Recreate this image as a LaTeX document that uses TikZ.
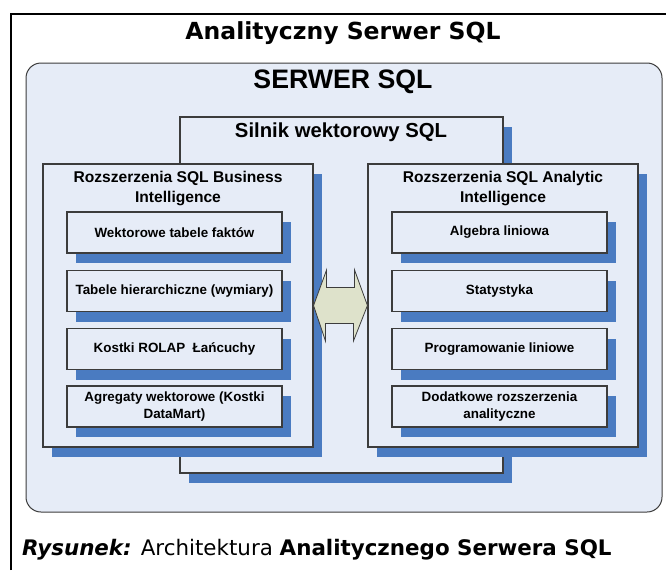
\documentclass[tikz,border=0pt]{standalone}
\usepackage{fontspec}
\setmainfont{Liberation Sans}
\newfontfamily\capfont{DejaVu Sans}
\usetikzlibrary{shadows,calc}
\definecolor{bgblue}{HTML}{E6ECF7}
\definecolor{shblue}{HTML}{4A7BC1}
\definecolor{arrowfill}{HTML}{DEE2CB}
\definecolor{edgegray}{HTML}{3C3C3C}
\tikzset{
  panel/.style={draw=edgegray, line width=1.1pt, fill=bgblue, inner sep=0pt,
    drop shadow={shadow xshift=9pt, shadow yshift=-10pt, fill=shblue, opacity=1}},
  item/.style={panel, minimum width=215pt, minimum height=41pt, align=center,
    font=\bfseries\fontsize{13.4}{17.5}\selectfont},
  lbl/.style={inner sep=0pt, align=center},
}
\begin{document}
\begin{tikzpicture}[x=1pt,y=-1pt]
\useasboundingbox (0,0) rectangle (666,570);
% outer frame
\coordinate (fa) at (11,570);
\coordinate (fb) at (11,14);
\coordinate (fc) at (666,14);
\draw[line width=2.4pt] (fa) -- (fb) -- (fc);
\node[lbl, font=\capfont\bfseries\fontsize{23.5}{26}\selectfont] (title) at (343,33) {Analityczny Serwer SQL};
% server
\node[draw=edgegray, line width=1pt, fill=bgblue, rounded corners=15pt,
  minimum width=636pt, minimum height=449pt, inner sep=0pt] (server) at (344,287.5) {};
\node[lbl, font=\bfseries\fontsize{26.7}{30}\selectfont] (servertitle) at (343,82) {SERWER SQL};
% engine
\node[panel, minimum width=323pt, minimum height=356pt] (engine) at (341.5,295) {};
\node[lbl, font=\bfseries\fontsize{20.3}{23}\selectfont] (enginetitle) at (341,132) {Silnik wektorowy SQL};
% BI
\node[panel, minimum width=270pt, minimum height=283pt] (bi) at (178,305.5) {};
\node[lbl, font=\bfseries\fontsize{15.6}{19.5}\selectfont, anchor=north] (bititle) at (178,171) {Rozszerzenia SQL Business\\Intelligence};
% AI
\node[panel, minimum width=270pt, minimum height=283pt] (ai) at (503,305.5) {};
\node[lbl, font=\bfseries\fontsize{15.6}{19.5}\selectfont, anchor=north] (aititle) at (503,171) {Rozszerzenia SQL Analytic\\Intelligence};
% items left
\node[item] (b1) at (174.5,232.5) {Wektorowe tabele faktów};
\node[item] (b2) at (174.5,291) {Tabele hierarchiczne (wymiary)};
\node[item] (b3) at (174.5,349) {Kostki ROLAP\ \ Łańcuchy};
\node[item] (b4) at (174.5,406.5) {Agregaty wektorowe (Kostki\\DataMart)};
% items right
\node[item] (a1) at (499.5,232.5) {Algebra liniowa};
\node[item] (a2) at (499.5,291) {Statystyka};
\node[item] (a3) at (499.5,349) {Programowanie liniowe};
\node[item] (a4) at (499.5,406.5) {Dodatkowe rozszerzenia\\analityczne};
% double arrow
\draw[draw=edgegray, line width=0.8pt, fill=arrowfill, line join=miter]
  (bi.east) -- ++(13,-35.5) -- ++(0,17.5) -- ++(28,0) -- ++(0,-17.5)
  -- (ai.west) -- ++(-14,35.5) -- ++(0,-17.5) -- ++(-28,0) -- ++(0,17.5) -- cycle;
% caption
\node[lbl, anchor=base west, font=\capfont\fontsize{21.4}{24}\selectfont] (caption) at (22,555)
  {\textbf{\textit{Rysunek:}} Architektura \textbf{Analitycznego Serwera SQL}};
\end{tikzpicture}
\end{document}
